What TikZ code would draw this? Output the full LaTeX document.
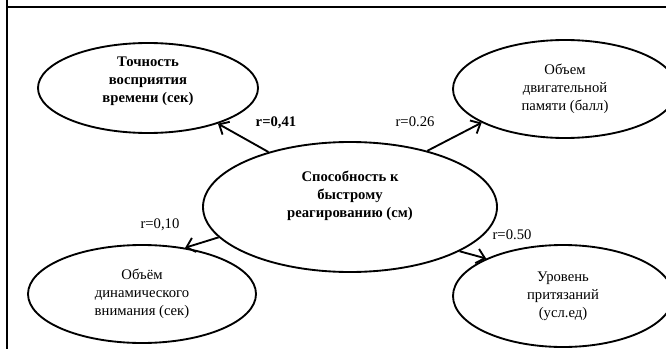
\documentclass[tikz,border=0pt]{standalone}
\usepackage{fontspec}
\setmainfont{Liberation Serif}
\usetikzlibrary{arrows.meta,shapes.geometric}
\tikzstyle{factor}=[ellipse, draw, line width=1.4pt, inner sep=0pt, align=center,
    font=\fontsize{11}{13.5}\selectfont]
\tikzstyle{keyfactor}=[factor, font=\fontsize{11}{13.5}\selectfont\bfseries]
\tikzstyle{coef}=[inner sep=1pt, font=\fontsize{11}{13.5}\selectfont]
\newcommand{\factor}{\node[factor]}

\begin{document}
\begin{tikzpicture}[x=0.75pt, y=-0.75pt
    ,every edge/.style={
        draw, line width=1.4pt,
        -{Straight Barb[length=6pt,width=11pt,line width=1.4pt]} }
]
\useasboundingbox (0,0) rectangle (666,349);
\draw[line width=1.8pt] (7,0) -- (7,349);
\draw[line width=1.8pt] (7,7) -- (666,7);
\factor[keyfactor, text depth=12pt, minimum width=165pt, minimum height=67.5pt] (time) at (148,88)
    {Точность\\восприятия\\времени (сек)};
\factor[minimum width=168pt, minimum height=73.5pt] (memory) at (565,89)
    {Объем\\двигательной\\памяти (балл)};
\factor[keyfactor, text depth=19pt, minimum width=220.5pt, minimum height=97.5pt] (react) at (350,207)
    {Способность к\\быстрому\\реагированию (см)};
\factor[minimum width=171pt, minimum height=73.5pt] (attention) at (142,294)
    {Объём\\динамического\\внимания (сек)};
\factor[minimum width=165pt, minimum height=76.5pt] (claims) at (563,296)
    {Уровень\\притязаний\\(усл.ед)};
\node[coef, font=\fontsize{11}{13.5}\selectfont\bfseries] (r1) at (276,123) {r=0,41};
\node[coef] (r2) at (415,122) {r=0.26};
\node[coef] (r3) at (160,225) {r=0,10};
\node[coef] (r4) at (512,235) {r=0.50};
\path
(react.146) edge (time.-27)
(react.36) edge (memory.202)
(react.193) edge (attention.47)
(react.-22) edge (claims.154)
;
\end{tikzpicture}
\end{document}
